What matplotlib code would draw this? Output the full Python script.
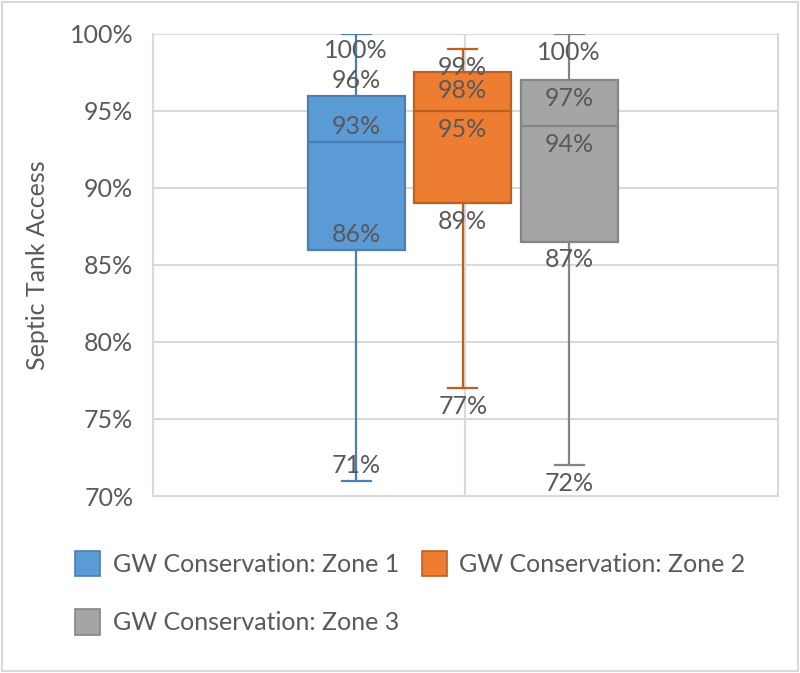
import matplotlib
matplotlib.use("Agg")
import matplotlib.pyplot as plt
import matplotlib.patches as mpatches
import numpy as np

plt.rcParams['font.family'] = ['Lato', 'DejaVu Sans']

series = ["GW Conservation: Zone 1", "GW Conservation: Zone 2", "GW Conservation: Zone 3"]
whisker_low = [71, 77, 72]
q1 = [86, 89, 86.5]
median = [93, 95, 94]
q3 = [96, 97.5, 97]
whisker_high = [100, 99, 100]
yticks = [70, 75, 80, 85, 90, 95, 100]

fills = ["#5B9BD5", "#ED7D31", "#A5A5A5"]
edges = ["#4A7FB5", "#C0601F", "#858585"]
text_col = "#595959"
grid_col = "#D9D9D9"

# label offsets in points: order whisker_high, q3, median, q1, whisker_low
label_offsets = [
    [-12, 11, 11, 11, 11],
    [-13, -13, -13, -13, -13],
    [-13, -13, -13, -13, -13],
]

fig = plt.figure(figsize=(8, 6.73), dpi=100)
ax = fig.add_axes([0.191, 0.263, 0.7815, 0.6865])

positions = [-1, 0, 1]
stats = []
for i in range(3):
    stats.append(dict(med=median[i], q1=q1[i], q3=q3[i],
                      whislo=whisker_low[i], whishi=whisker_high[i],
                      fliers=[], label=series[i]))

for i in range(3):
    ax.bxp([stats[i]], positions=[positions[i]], widths=0.91, capwidths=0.27,
           patch_artist=True, showfliers=False,
           boxprops=dict(facecolor=fills[i], edgecolor=edges[i], linewidth=1.6),
           medianprops=dict(color=edges[i], linewidth=1.6),
           whiskerprops=dict(color=edges[i], linewidth=1.6),
           capprops=dict(color=edges[i], linewidth=1.6), zorder=3)
    vals = [whisker_high[i], q3[i], median[i], q1[i], whisker_low[i]]
    for v, off in zip(vals, label_offsets[i]):
        ax.annotate(f"{int(np.floor(v + 0.5))}%", xy=(positions[i], v),
                    xytext=(0, off), textcoords="offset points",
                    ha="center", va="center", fontsize=18, color=text_col, zorder=4)

ax.set_xlim(-2.91, 2.96)
ax.set_ylim(70, 100)
ax.set_yticks(yticks)
ax.set_yticklabels([f"{t}%" for t in yticks], fontsize=18, color=text_col)
ax.set_xticks([])
ax.yaxis.grid(True, color=grid_col, linewidth=1.5, zorder=0)
ax.plot([0.5, 0.5], [0, 1], color=grid_col, linewidth=1.5, transform=ax.transAxes, zorder=0.5)
ax.spines["top"].set_visible(False)
for s in ["left", "right", "bottom"]:
    ax.spines[s].set_color(grid_col)
    ax.spines[s].set_linewidth(1.5)
ax.tick_params(axis="y", length=0, pad=14)
ax.set_ylabel("Septic Tank Access", fontsize=18, color=text_col)
ax.yaxis.set_label_coords(-0.166, 0.5)
ax.set_facecolor("white")

handles = [mpatches.Patch(facecolor=fills[i], edgecolor=edges[i], linewidth=1.2, label=series[i]) for i in range(3)]
order = [0, 2, 1]
leg = fig.legend(handles=[handles[k] for k in order], loc="upper left", bbox_to_anchor=(0.066, 0.215), ncol=2,
                 frameon=False, fontsize=18, labelcolor=text_col,
                 handlelength=1.0, handleheight=1.2, handletextpad=0.5, columnspacing=0.9,
                 labelspacing=1.3)

fig.patches.append(mpatches.Rectangle((0.003, 0.003), 0.994, 0.994, transform=fig.transFigure,
                                      fill=False, edgecolor="#D9D9D9", linewidth=1.5))
fig.savefig("out.png", dpi=100, facecolor="white")
